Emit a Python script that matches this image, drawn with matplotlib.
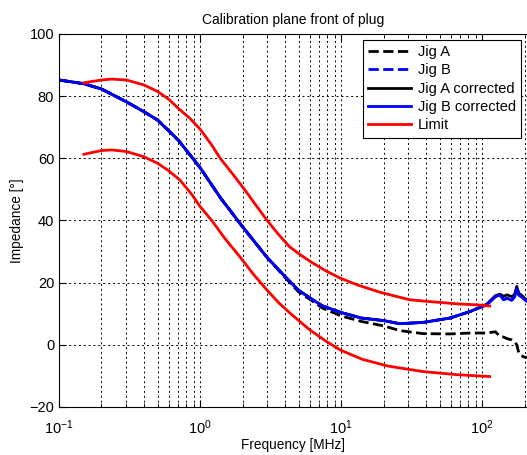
import numpy as np
import matplotlib
matplotlib.use('Agg')
import matplotlib.pyplot as plt

plt.rcParams['font.family'] = ['Liberation Sans', 'DejaVu Sans']

# Mesures (freqüència en MHz, impedància en graus)
f_meas = [0.1, 0.15, 0.2, 0.3, 0.4, 0.5, 0.7, 1, 1.4, 2, 3, 4, 5, 6.3, 7.4, 10,
          14, 20, 26, 38, 59, 82, 108, 124, 134, 142, 150, 162, 170, 176, 182, 190, 200, 208]
jigA = [85.2, 84, 82.3, 78.2, 75, 72.3, 65.9, 57, 47.2, 38, 28, 21.7, 17, 14, 11.8, 9.3,
        7.5, 6.1, 4.6, 3.6, 3.5, 3.8, 3.8, 4.2, 2.7, 2.5, 2, 1.6, 1, 0, -2.6, -3.5, -4, -4]
jigB = [85.2, 84, 82.3, 78.2, 75, 72.3, 65.9, 57, 47.2, 38, 28, 22, 17.5, 14.5, 12.5, 10.4,
        8.6, 7.8, 6.8, 7.2, 8.6, 10.7, 12.9, 15.5, 16, 14.5, 15, 14.3, 15.5, 18.2, 16, 15.5, 14.5, 14]
jigA_corr = [85.2, 84, 82.3, 78.2, 75, 72.3, 65.9, 57, 47.2, 38, 28, 22, 17.5, 14.5, 12.5, 10.4,
             8.6, 7.8, 6.8, 7.2, 8.6, 10.7, 13.1, 15.8, 16.3, 15.6, 16.1, 15.5, 16.2, 18.8, 16.6, 16, 15, 14.5]
jigB_corr = jigB

# Límits
f_lim_up = [0.15, 0.2, 0.236, 0.3, 0.4, 0.5, 0.6, 0.7, 0.85, 1, 1.2, 1.39, 1.7, 2.08, 2.5, 2.97,
            3.6, 4.3, 5.2, 6.3, 7.8, 9.8, 13, 18.9, 30.6, 42.7, 66, 96, 113]
lim_up = [84.3, 85.2, 85.5, 85.2, 83.6, 81.5, 79, 76.1, 72.8, 69.4, 64.5, 60, 55, 49.8, 44.8, 40.2,
          35.5, 31.6, 28.8, 26.3, 23.8, 21.5, 19.3, 16.9, 14.5, 13.9, 13.2, 12.8, 12.5]
f_lim_lo = [0.15, 0.2, 0.236, 0.3, 0.4, 0.5, 0.6, 0.72, 0.87, 1, 1.23, 1.5, 1.91, 2.4, 2.97, 3.6,
            4.34, 6, 7.8, 9.8, 14, 21.3, 38, 66, 113]
lim_lo = [61.3, 62.5, 62.7, 62.2, 60.5, 58.4, 56, 53, 48.5, 44.5, 39.6, 34.2, 28.4, 22.6, 17.7, 13.6,
          10.2, 4.8, 1.2, -1.6, -4.6, -6.8, -8.6, -9.6, -10.2]

fig = plt.figure(figsize=(5.27, 4.55), dpi=100)
ax = fig.add_axes([0.112, 0.1055, 0.888, 0.8198])

lw = 2
ax.semilogx(f_meas, jigA, 'k--', lw=lw, label='Jig A')
ax.semilogx(f_meas, jigB, 'b--', lw=lw, label='Jig B')
ax.semilogx(f_meas, jigA_corr, 'k-', lw=lw, label='Jig A corrected')
ax.semilogx(f_meas, jigB_corr, 'b-', lw=lw, label='Jig B corrected')
ax.semilogx(f_lim_up, lim_up, 'r-', lw=lw, label='Limit')
ax.semilogx(f_lim_lo, lim_lo, 'r-', lw=lw)

ax.set_xlim(0.1, 208)
ax.set_ylim(-20, 100)
ax.set_yticks(np.arange(-20, 101, 20))
ax.grid(True, which='major', axis='both', color='k', linestyle=(0, (2, 3)), linewidth=0.7)
ax.grid(True, which='minor', axis='x', color='k', linestyle=(0, (2, 3)), linewidth=0.7)
ax.tick_params(which='both', direction='in', top=True, right=False, labelsize=10.5)
ax.tick_params(axis='x', which='major', pad=8)
ax.tick_params(which='major', length=5)
ax.tick_params(which='minor', length=3)
ax.spines['right'].set_visible(False)

ax.set_title('Calibration plane front of plug', fontsize=10, pad=7)
ax.set_xlabel('Frequency [MHz]', fontsize=9.8, labelpad=1)
ax.set_ylabel('Impedance [°]', fontsize=9.8)

leg = ax.legend(loc='upper right', fontsize=10.5, handlelength=2.9, fancybox=False,
                framealpha=1, edgecolor='k', borderaxespad=0.4, labelspacing=0.3,
                borderpad=0.35, handletextpad=0.5)
leg.get_frame().set_linewidth(0.8)

fig.savefig('out.png', dpi=100)
